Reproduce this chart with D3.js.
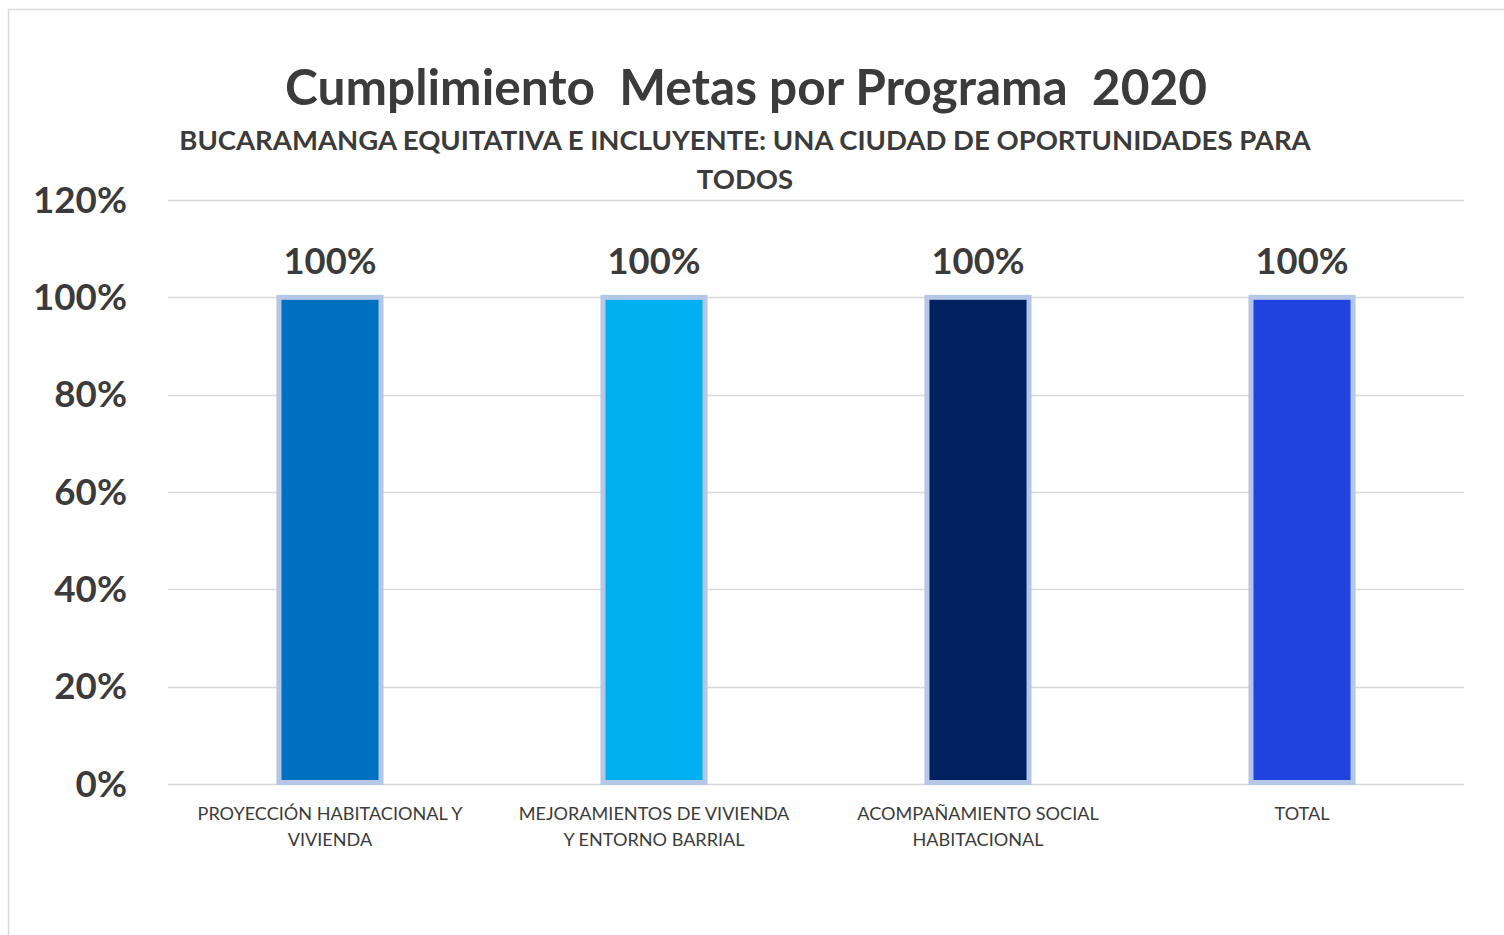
<!DOCTYPE html>
<html><head><meta charset="utf-8">
<script src="https://cdn.jsdelivr.net/npm/d3@7"></script>
<style>html,body{margin:0;padding:0;background:#fff;overflow:hidden}svg{display:block}</style>
</head><body>
<svg id="c" width="1504" height="935"></svg>
<script>
const categories = [
  ["PROYECCIÓN HABITACIONAL Y", "VIVIENDA"],
  ["MEJORAMIENTOS DE VIVIENDA", "Y ENTORNO BARRIAL"],
  ["ACOMPAÑAMIENTO SOCIAL", "HABITACIONAL"],
  ["TOTAL"]
];
const values = [1.00, 1.00, 1.00, 1.00];
const barColors = ["#0070c0", "#00b0f0", "#002060", "#2043e0"];
const yTicks = [0, 0.2, 0.4, 0.6, 0.8, 1.0, 1.2];
const titleText = "Cumplimiento  Metas por Programa  2020";
const subtitleLines = ["BUCARAMANGA EQUITATIVA E INCLUYENTE: UNA CIUDAD DE OPORTUNIDADES PARA", "TODOS"];

(function () {
const svg = d3.select("#c");
const FONT = "Lato, 'Open Sans', sans-serif";
const TXT = "#3b3b3b";

// outer chart border
svg.append("rect").attr("x", 8.5).attr("y", 9.5).attr("width", 1700).attr("height", 1200)
  .attr("fill", "#fff").attr("stroke", "#d9d9d9").attr("stroke-width", 1.5);

const pL = 168, pR = 1464, pT = 200, pB = 784;
const keys = categories.map((d, i) => i);
const x = d3.scaleBand().domain(keys).range([pL, pR]).paddingInner(0.685).paddingOuter(0.3425);
const y = d3.scaleLinear().domain([0, 1.2]).range([pB, pT]);

function fit(sel, target) {
  const w = sel.node().getComputedTextLength();
  const fs = parseFloat(sel.attr("font-size"));
  sel.attr("font-size", fs * target / w);
  return fs * target / w;
}

// gridlines
svg.append("g").selectAll("line").data(yTicks).join("line")
  .attr("x1", pL).attr("x2", pR)
  .attr("y1", d => Math.round(y(d)) + 0.5).attr("y2", d => Math.round(y(d)) + 0.5)
  .attr("stroke", "#d9d9d9").attr("stroke-width", 1.5);

// y axis labels
const yAxis = d3.axisLeft(y).tickValues(yTicks).tickFormat(d3.format(".0%")).tickSize(0).tickPadding(0);
const ya = svg.append("g").attr("transform", `translate(127,-2)`).call(yAxis);
ya.select(".domain").remove();
ya.selectAll("text").attr("font-family", FONT).attr("font-weight", 700).attr("font-size", 34)
  .attr("fill", TXT).attr("dy", null).attr("dominant-baseline", "central");
{
  const t = ya.selectAll("text").filter(d => d === 1.2);
  const fs = fit(t, 94);
  ya.selectAll("text").attr("font-size", fs);
}

// bars
svg.append("g").selectAll("rect").data(values).join("rect")
  .attr("x", (d, i) => x(i)).attr("width", x.bandwidth())
  .attr("y", d => y(d)).attr("height", d => y(0) - y(d) - 1.5)
  .attr("fill", (d, i) => barColors[i])
  .attr("stroke", "#b4c7e7").attr("stroke-width", 5);

// data labels
const dl = svg.append("g").selectAll("text").data(values).join("text")
  .attr("x", (d, i) => x(i) + x.bandwidth() / 2).attr("y", d => y(d) - 23)
  .attr("text-anchor", "middle").attr("font-family", FONT).attr("font-weight", 700)
  .attr("font-size", 34).attr("fill", TXT).text(d => d3.format(".0%")(d));
{
  const fs = fit(d3.select(dl.nodes()[0]), 93);
  dl.attr("font-size", fs);
}

// x labels
const xg = svg.append("g");
categories.forEach((lines, i) => {
  lines.forEach((ln, j) => {
    xg.append("text").attr("x", x(i) + x.bandwidth() / 2).attr("y", 820 + j * 26)
      .attr("text-anchor", "middle").attr("font-family", FONT).attr("font-size", 18)
      .attr("fill", TXT).text(ln);
  });
});
{
  const t = xg.selectAll("text").filter(function () { return this.textContent === categories[0][0]; });
  const xfs = fit(t, 265);
  xg.selectAll("text").attr("font-size", xfs);
}

// title
const tt = svg.append("text").attr("x", 746).attr("y", 105).attr("text-anchor", "middle")
  .attr("font-family", FONT).attr("font-weight", 700).attr("font-size", 46).attr("fill", TXT)
  .style("white-space", "pre").text(titleText);
fit(tt, 922);

const st = svg.append("g");
subtitleLines.forEach((ln, j) => {
  st.append("text").attr("x", 745).attr("y", 150 + j * 39).attr("text-anchor", "middle")
    .attr("font-family", FONT).attr("font-weight", 700).attr("font-size", 26).attr("fill", TXT).text(ln);
});
{
  const fs = fit(d3.select(st.selectAll("text").nodes()[0]), 1132);
  st.selectAll("text").attr("font-size", fs);
}
})();
</script>
</body></html>
